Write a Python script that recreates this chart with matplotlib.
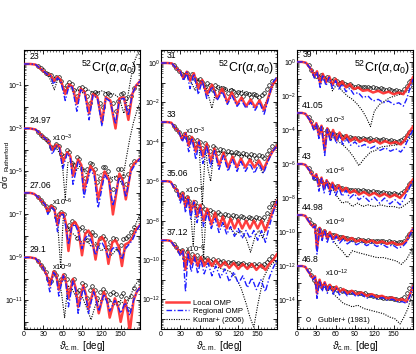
import numpy as np
import matplotlib.pyplot as plt
from matplotlib.ticker import FixedLocator, FuncFormatter, LogLocator, NullFormatter, MultipleLocator

plt.rcParams['font.family'] = ['Liberation Sans', 'DejaVu Sans']
plt.rcParams['mathtext.fontset'] = 'custom'
plt.rcParams['mathtext.rm'] = 'Liberation Sans'
plt.rcParams['mathtext.it'] = 'Liberation Sans:italic'
plt.rcParams['mathtext.bf'] = 'Liberation Sans:bold'

# angles of the measured points (deg), one grid per panel
dth1 = [22, 26, 30, 34, 38, 42, 46, 50, 54, 58, 62, 66, 70, 74, 78, 82, 86, 90, 94, 98,
        102, 106, 110, 114, 118, 122, 126, 130, 134, 138, 142, 146, 150, 154, 158, 162, 166, 170]
dth2 = [20, 24, 28, 32, 36, 40, 44, 48, 52, 56, 60, 64, 68, 72, 76, 80, 84, 88, 92, 96, 100,
        104, 108, 112, 116, 120, 124, 128, 132, 136, 140, 144, 148, 152, 156, 160, 164, 168, 172]
dth3 = [18, 22, 26, 30, 34, 38, 42, 46, 50, 54, 58, 62, 66, 70, 74, 78, 82, 86, 90, 94, 98,
        102, 106, 110, 114, 118, 122, 126, 130, 134, 138, 142, 146, 150, 154, 158, 162, 166, 170, 174]

# all values are log10(sigma/sigma_R) before the x10^-n offset
# ---- 23 MeV
e23_th = [0, 10, 18, 25, 31, 37, 41, 46, 52, 57, 64, 70, 75, 82, 88, 94, 101, 107, 114, 121, 127, 134, 142, 148, 155, 162, 168, 174, 180]
e23_loc = [0, 0, -0.03, -0.2, -0.35, -0.5, -0.5, -0.8, -0.6, -0.75, -1.4, -0.95, -1.05, -1.85, -1.15, -1.3, -2.3, -1.4, -1.55, -2.7, -1.55, -1.7, -3.0, -1.6, -1.55, -2.6, -1.4, -1.0, -0.8]
e23_reg = [0, 0, -0.03, -0.2, -0.35, -0.5, -0.55, -0.95, -0.65, -0.8, -1.7, -1.0, -1.1, -2.2, -1.2, -1.35, -2.6, -1.45, -1.6, -2.9, -1.6, -1.75, -2.8, -1.65, -1.6, -2.4, -1.4, -1.0, -0.8]
e23_kth = [0, 10, 18, 25, 31, 37, 42, 47, 53, 58, 64, 70, 76, 82, 90, 100, 110, 120, 130, 140, 148, 155, 160, 165, 170, 175, 180]
e23_kum = [0, 0, -0.03, -0.2, -0.4, -0.5, -0.8, -1.2, -0.65, -0.9, -1.3, -1.0, -1.3, -1.2, -1.35, -1.2, -1.4, -1.25, -1.35, -1.4, -1.6, -2.3, -1.7, -0.8, 0.0, 0.4, 0.6]
e23_dat = [-0.1, -0.2, -0.3, -0.4, -0.45, -0.5, -0.7, -0.6, -0.6, -0.8, -1.1, -1.0, -0.85, -0.95, -1.2, -1.5, -1.1, -1.05, -1.15, -1.5,
           -1.8, -1.35, -1.3, -1.35, -1.8, -2.0, -1.4, -1.35, -1.45, -1.8, -2.2, -1.7, -1.4, -1.35, -1.6, -2.0, -1.5, -1.1]
# ---- 24.97 MeV
e24_th = [0, 10, 18, 25, 32, 38, 44, 50, 55, 60, 67, 72, 76, 84, 89, 93, 103, 109, 115, 125, 132, 138, 148, 153, 158, 166, 172, 180]
e24_loc = [0, 0, -0.05, -0.25, -0.45, -0.6, -1.0, -0.75, -0.85, -1.6, -1.1, -1.3, -2.2, -1.45, -1.7, -2.9, -1.75, -2.0, -3.3, -2.0, -2.4, -4.0, -2.1, -2.4, -3.3, -1.9, -1.6, -1.4]
e24_reg = [0, 0, -0.05, -0.25, -0.45, -0.6, -1.2, -0.8, -0.9, -1.9, -1.15, -1.4, -2.6, -1.55, -1.8, -3.2, -1.9, -2.2, -3.7, -2.15, -2.5, -3.6, -2.25, -2.5, -3.2, -2.0, -1.7, -1.4]
e24_kth = [0, 10, 18, 25, 32, 38, 44, 50, 56, 60, 64, 68, 74, 80, 88, 96, 105, 115, 125, 135, 145, 152, 158, 164, 170, 176, 180]
e24_kum = [0, 0, -0.05, -0.25, -0.5, -0.7, -1.0, -0.9, -1.2, -1.8, -3.3, -1.6, -1.5, -2.0, -1.7, -2.1, -1.9, -2.2, -2.0, -2.3, -2.2, -2.6, -1.5, -0.5, 0.3, 0.9, 1.2]
e24_dat = [-0.15, -0.3, -0.4, -0.5, -0.6, -0.85, -0.85, -0.7, -0.8, -1.2, -1.3, -1.0, -1.1, -1.6, -1.7, -1.35, -1.4, -1.9, -2.3, -1.9,
           -1.6, -1.65, -1.9, -2.5, -2.3, -1.8, -1.8, -2.0, -2.4, -2.8, -2.3, -1.9, -1.9, -2.2, -2.6, -2.1, -1.7, -1.5]
# ---- 27.06 MeV
e27_th = [0, 10, 16, 22, 28, 33, 37, 42, 47, 52, 56, 61, 65, 69, 74, 79, 84, 90, 95, 100, 105, 111, 116, 121, 126, 131, 137, 142, 147, 152, 157, 163, 168, 174, 180]
e27_loc = [0, 0, -0.05, -0.2, -0.4, -0.55, -0.9, -0.6, -0.75, -1.5, -0.95, -0.93, -1.4, -2.7, -1.5, -1.35, -1.6, -2.9, -1.9, -1.75, -2.0, -3.1, -2.2, -2.05, -2.3, -3.3, -2.3, -2.2, -2.5, -3.4, -2.4, -2.3, -2.1, -1.7, -1.5]
e27_reg = [0, 0, -0.05, -0.2, -0.4, -0.55, -1.0, -0.65, -0.8, -1.8, -1.0, -1.0, -1.6, -2.4, -1.6, -1.45, -1.8, -2.6, -2.1, -1.95, -2.3, -2.9, -2.4, -2.3, -2.6, -3.0, -2.6, -2.5, -2.7, -3.1, -2.6, -2.4, -2.2, -1.8, -1.5]
e27_kth = [0, 10, 16, 22, 28, 33, 37, 42, 47, 52, 57, 61, 66, 72, 80, 88, 96, 104, 112, 120, 128, 136, 144, 152, 160, 168, 174, 180]
e27_kum = [0, 0, -0.05, -0.2, -0.4, -0.55, -0.95, -0.6, -0.8, -1.3, -3.5, -1.1, -1.5, -1.8, -2.0, -2.3, -2.1, -2.5, -2.3, -2.7, -2.5, -2.9, -2.6, -2.9, -2.5, -2.0, -1.4, -1.0]
e27_dat = [-0.2, -0.35, -0.45, -0.6, -0.8, -0.6, -0.7, -1.1, -1.0, -0.9, -1.0, -1.7, -1.5, -1.3, -1.4, -2.1, -1.7, -1.6, -1.75, -2.2,
           -1.9, -1.8, -1.95, -2.4, -2.1, -2.0, -2.15, -2.5, -2.3, -2.1, -2.15, -2.6, -2.4, -2.15, -2.1, -2.0, -1.8, -1.6]
# ---- 29.1 MeV
e29_th = [0, 10, 18, 25, 30, 35, 40, 46, 50, 54, 61, 65, 69, 76, 80, 84, 92, 96, 100, 108, 112, 116, 124, 129, 133, 141, 146, 150, 157, 161, 164, 170, 175, 180]
e29_loc = [0, 0, -0.05, -0.3, -0.5, -0.8, -1.3, -0.65, -0.8, -1.5, -0.8, -1.1, -1.9, -1.0, -1.4, -2.3, -1.3, -1.7, -2.4, -1.5, -1.9, -2.6, -1.6, -2.0, -2.8, -1.9, -2.3, -3.0, -2.0, -2.6, -3.5, -2.0, -1.6, -1.4]
e29_reg = [0, 0, -0.05, -0.3, -0.5, -0.85, -1.6, -0.7, -0.85, -1.8, -0.85, -1.2, -2.3, -1.1, -1.5, -2.6, -1.4, -1.8, -2.6, -1.6, -2.0, -2.5, -1.7, -2.1, -2.5, -2.0, -2.3, -2.6, -2.1, -2.4, -2.7, -2.0, -1.6, -1.4]
e29_kth = [0, 10, 18, 25, 30, 35, 40, 46, 52, 58, 63, 68, 75, 82, 90, 98, 104, 112, 120, 130, 140, 150, 158, 165, 172, 180]
e29_kum = [0, 0, -0.05, -0.3, -0.5, -0.8, -1.2, -0.7, -1.0, -1.6, -2.8, -1.3, -1.5, -1.9, -1.8, -2.4, -2.9, -2.1, -2.0, -1.9, -2.2, -2.0, -2.3, -1.8, -1.3, -1.0]
e29_dat = [-0.15, -0.35, -0.5, -0.7, -1.0, -1.1, -0.7, -0.8, -1.2, -1.0, -0.8, -1.0, -1.5, -1.1, -1.0, -1.6, -1.5, -1.2, -1.3, -1.9,
           -1.5, -1.35, -1.5, -1.9, -1.6, -1.45, -1.6, -2.0, -1.7, -1.6, -1.7, -2.1, -1.8, -1.65, -1.9, -2.4, -1.8, -1.4]
# ---- 31 MeV
e31_th = [0, 10, 17, 24, 30, 35, 40, 45, 51, 58, 64, 71, 79, 87, 95, 103, 110, 118, 125, 132, 139, 146, 153, 160, 167, 173, 180]
e31_loc = [0, 0, -0.02, -0.27, -0.45, -0.8, -0.44, -0.9, -0.52, -1.3, -0.86, -1.6, -1.1, -1.8, -1.3, -2.0, -1.5, -2.1, -1.75, -2.2, -1.85, -2.25, -1.9, -2.4, -1.7, -1.1, -0.8]
e31_reg = [0, 0, -0.02, -0.27, -0.45, -0.9, -0.46, -1.3, -0.55, -1.6, -0.9, -1.8, -1.2, -1.9, -1.45, -2.1, -1.65, -2.2, -1.9, -2.3, -2.0, -2.4, -2.0, -2.6, -1.8, -1.0, -0.7]
e31_kth = [0, 10, 17, 24, 30, 35, 40, 45, 53, 58, 64, 70, 79, 86, 94, 102, 110, 118, 126, 134, 142, 150, 158, 164, 170, 176, 180]
e31_kum = [0, 0, -0.02, -0.27, -0.45, -0.8, -0.45, -0.85, -1.4, -0.8, -1.0, -1.2, -2.3, -1.3, -1.2, -1.4, -1.3, -1.5, -1.4, -1.6, -1.5, -1.8, -2.3, -1.9, -1.5, -1.0, -0.8]
e31_dat = [-0.1, -0.25, -0.4, -0.55, -0.6, -0.5, -0.7, -0.55, -0.8, -0.95, -0.8, -0.95, -1.2, -1.0, -1.1, -1.35, -1.1, -1.2, -1.4, -1.25,
           -1.3, -1.5, -1.35, -1.4, -1.6, -1.45, -1.5, -1.65, -1.5, -1.55, -1.7, -1.55, -1.6, -1.75, -1.6, -1.5, -1.3, -1.1, -0.9]
# ---- 33 MeV
e33_th = [0, 10, 16, 22, 28, 33, 38, 43, 48, 54, 59, 65, 71, 77, 83, 90, 97, 104, 111, 118, 124, 131, 138, 145, 152, 159, 166, 173, 180]
e33_loc = [0, 0, -0.03, -0.3, -0.5, -0.9, -0.55, -1.2, -0.75, -1.5, -0.95, -1.75, -1.1, -2.0, -1.35, -2.2, -1.55, -2.3, -1.75, -2.3, -1.85, -2.3, -1.9, -2.3, -1.95, -2.4, -1.9, -1.5, -1.2]
e33_reg = [0, 0, -0.03, -0.3, -0.5, -1.0, -0.6, -1.5, -0.8, -1.9, -1.0, -2.1, -1.2, -2.3, -1.45, -2.4, -1.7, -2.5, -1.9, -2.5, -2.0, -2.5, -2.1, -2.6, -2.1, -2.6, -2.0, -1.5, -1.2]
e33_kth = [0, 10, 16, 22, 28, 33, 38, 43, 48, 54, 59, 64, 69, 73, 77, 82, 90, 100, 110, 120, 130, 140, 150, 158, 165, 172, 180]
e33_kum = [0, 0, -0.03, -0.3, -0.5, -0.9, -0.55, -1.1, -0.8, -1.3, -1.1, -4.2, -1.3, -2.4, -3.0, -1.5, -1.5, -1.6, -1.6, -1.7, -1.7, -1.9, -2.1, -2.6, -2.0, -1.5, -1.2]
e33_dat = [-0.2, -0.35, -0.5, -0.75, -0.6, -0.8, -0.75, -0.85, -1.1, -0.9, -1.0, -1.3, -1.05, -1.2, -1.45, -1.2, -1.3, -1.55, -1.35, -1.4,
           -1.6, -1.45, -1.5, -1.65, -1.5, -1.55, -1.7, -1.55, -1.6, -1.75, -1.6, -1.65, -1.8, -1.65, -1.7, -1.8, -1.6, -1.4, -1.2]
# ---- 35.06 MeV
e35_th = [0, 10, 15, 20, 25, 30, 34, 38, 42, 46, 51, 56, 61, 66, 72, 78, 84, 90, 96, 102, 108, 114, 120, 126, 132, 138, 144, 150, 156, 162, 168, 174, 180]
e35_loc = [0, 0, -0.03, -0.3, -0.45, -0.9, -0.6, -1.3, -0.8, -1.55, -1.0, -1.8, -1.2, -2.0, -1.4, -2.2, -1.6, -2.3, -1.8, -2.4, -1.9, -2.4, -1.95, -2.4, -2.0, -2.4, -2.0, -2.4, -2.0, -2.5, -2.0, -1.5, -1.0]
e35_reg = [0, 0, -0.03, -0.3, -0.45, -1.1, -0.65, -1.6, -0.85, -1.9, -1.05, -2.1, -1.3, -2.3, -1.6, -2.4, -1.9, -2.6, -2.1, -2.7, -2.3, -2.8, -2.4, -2.9, -2.5, -2.9, -2.5, -3.0, -2.5, -3.1, -2.3, -1.6, -1.0]
e35_kth = [0, 10, 15, 20, 25, 30, 34, 38, 42, 46, 50, 54, 58, 62, 66, 70, 76, 84, 92, 100, 108, 116, 124, 132, 139, 146, 152, 158, 164, 170, 176, 180]
e35_kum = [0, 0, -0.03, -0.3, -0.45, -0.9, -0.6, -1.25, -0.8, -1.5, -3.3, -1.2, -1.5, -1.6, -3.9, -1.5, -1.7, -1.9, -2.0, -2.3, -2.4, -2.7, -2.5, -2.9, -3.6, -2.8, -2.5, -2.9, -2.2, -1.6, -1.0, -0.8]
e35_dat = [-0.25, -0.45, -0.7, -0.6, -0.9, -0.8, -1.0, -1.2, -1.05, -1.25, -1.4, -1.25, -1.4, -1.55, -1.45, -1.55, -1.7, -1.55, -1.65, -1.8,
           -1.65, -1.7, -1.85, -1.7, -1.75, -1.9, -1.75, -1.8, -1.9, -1.8, -1.85, -1.95, -1.8, -1.85, -1.95, -1.8, -1.6, -1.3, -1.1]
# ---- 37.12 MeV
e37_th = [0, 10, 15, 20, 25, 30, 34, 38, 42, 47, 52, 57, 62, 67, 73, 79, 85, 92, 99, 106, 113, 120, 127, 134, 141, 148, 155, 162, 168, 174, 180]
e37_loc = [0, 0, -0.03, -0.25, -0.4, -0.7, -0.5, -1.5, -0.6, -1.2, -0.75, -1.3, -0.85, -1.3, -0.95, -1.3, -1.0, -1.35, -1.1, -1.4, -1.15, -1.45, -1.2, -1.45, -1.2, -1.5, -1.25, -1.5, -1.2, -1.0, -0.7]
e37_reg = [0, 0, -0.03, -0.25, -0.4, -0.8, -0.55, -2.6, -0.7, -1.6, -0.85, -1.7, -1.0, -1.7, -1.15, -1.8, -1.3, -1.9, -1.45, -2.1, -1.6, -2.2, -1.8, -2.4, -1.9, -2.5, -2.0, -2.6, -1.9, -1.4, -1.0]
e37_kth = [0, 10, 15, 20, 25, 30, 34, 38, 42, 47, 52, 57, 62, 70, 80, 90, 100, 108, 116, 124, 132, 138, 144, 150, 155, 159, 165, 172, 180]
e37_kum = [0, 0, -0.03, -0.25, -0.4, -0.7, -0.5, -1.4, -0.6, -1.2, -0.8, -1.3, -0.9, -1.2, -1.3, -1.4, -1.5, -1.6, -1.9, -2.4, -3.2, -3.9, -4.4, -3.3, -2.5, -1.9, -1.5, -1.2, -1.0]
e37_dat = [-0.2, -0.35, -0.55, -0.5, -0.9, -0.6, -0.9, -0.7, -0.95, -0.75, -0.95, -0.85, -1.0, -0.9, -1.05, -0.95, -1.1, -1.0, -1.1, -1.05,
           -1.15, -1.1, -1.15, -1.1, -1.2, -1.15, -1.2, -1.15, -1.25, -1.2, -1.25, -1.2, -1.3, -1.2, -1.3, -1.2, -1.1, -0.95, -0.8]
# ---- 39 MeV
e39_th = [0, 8, 14, 19, 23, 27, 31, 36, 40, 45, 50, 55, 60, 65, 70, 76, 82, 88, 95, 102, 110, 118, 126, 134, 142, 150, 158, 165, 170, 175, 180]
e39_loc = [0, 0, -0.05, -0.3, -0.5, -0.85, -0.55, -1.25, -0.7, -1.2, -0.85, -1.35, -1.0, -1.4, -1.15, -1.5, -1.3, -1.6, -1.5, -1.7, -1.65, -1.8, -1.7, -1.85, -1.75, -1.9, -1.8, -1.9, -1.6, -1.3, -0.9]
e39_reg = [0, 0, -0.05, -0.3, -0.5, -0.95, -0.6, -1.5, -0.75, -1.4, -0.9, -1.55, -1.1, -1.6, -1.3, -1.75, -1.55, -1.9, -1.8, -2.1, -2.0, -2.3, -2.2, -2.4, -2.3, -2.5, -2.4, -2.6, -2.2, -1.6, -1.0]
e39_kth = [0, 8, 14, 19, 23, 27, 31, 36, 40, 45, 50, 55, 62, 70, 78, 86, 94, 102, 108, 114, 120, 128, 136, 144, 152, 160, 168, 175, 180]
e39_kum = [0, 0, -0.05, -0.3, -0.5, -0.85, -0.55, -1.2, -0.7, -1.15, -0.9, -1.7, -1.3, -1.7, -2.0, -2.2, -2.5, -2.9, -3.3, -3.8, -2.9, -2.5, -2.3, -2.1, -2.0, -1.9, -1.8, -1.6, -1.4]
e39_dat = [-0.2, -0.45, -0.7, -0.8, -0.9, -0.75, -0.95, -0.9, -1.05, -1.1, -1.0, -1.15, -1.25, -1.2, -1.3, -1.35, -1.3, -1.4, -1.45, -1.4,
           -1.45, -1.5, -1.45, -1.5, -1.55, -1.5, -1.55, -1.6, -1.55, -1.6, -1.65, -1.6, -1.65, -1.7, -1.65, -1.7, -1.75, -1.6, -1.4, -1.2]
# ---- 41.05 MeV
e41_th = [0, 8, 13, 18, 22, 26, 30, 34, 38, 43, 47, 52, 56, 61, 66, 71, 77, 83, 90, 97, 105, 113, 121, 129, 137, 145, 153, 161, 167, 173, 180]
e41_loc = [0, 0, -0.05, -0.3, -0.55, -0.9, -0.6, -1.3, -0.75, -2.2, -0.9, -1.5, -1.0, -1.6, -1.15, -1.6, -1.3, -1.65, -1.45, -1.7, -1.55, -1.75, -1.6, -1.8, -1.65, -1.8, -1.7, -1.85, -1.6, -1.2, -0.8]
e41_reg = [0, 0, -0.05, -0.3, -0.55, -1.0, -0.65, -1.5, -0.8, -2.5, -0.95, -1.7, -1.1, -1.8, -1.3, -1.85, -1.5, -1.9, -1.7, -2.0, -1.85, -2.1, -1.95, -2.2, -2.05, -2.25, -2.1, -2.3, -2.0, -1.5, -1.0]
e41_kth = [0, 8, 13, 18, 22, 26, 30, 34, 38, 43, 47, 52, 58, 65, 72, 80, 88, 96, 104, 114, 122, 130, 140, 150, 160, 168, 175, 180]
e41_kum = [0, 0, -0.05, -0.3, -0.55, -0.9, -0.6, -1.25, -0.75, -1.9, -1.0, -1.6, -1.4, -1.7, -1.9, -2.2, -2.6, -3.1, -2.7, -2.3, -2.2, -2.0, -1.95, -1.9, -1.85, -1.7, -1.5, -1.3]
e41_dat = [-0.25, -0.5, -0.8, -0.75, -1.0, -0.9, -1.2, -1.0, -1.2, -1.15, -1.25, -1.3, -1.3, -1.4, -1.35, -1.45, -1.4, -1.5, -1.45, -1.5,
           -1.55, -1.5, -1.55, -1.55, -1.5, -1.6, -1.55, -1.6, -1.6, -1.55, -1.6, -1.65, -1.6, -1.65, -1.7, -1.65, -1.6, -1.5, -1.3, -1.1]
# ---- 43 MeV
e43_th = [0, 8, 13, 18, 22, 26, 30, 34, 38, 42, 46, 51, 55, 60, 65, 70, 76, 82, 89, 96, 104, 112, 120, 128, 136, 144, 152, 160, 167, 173, 180]
e43_loc = [0, 0, -0.05, -0.3, -0.5, -0.8, -0.6, -1.3, -0.8, -1.4, -0.95, -1.5, -1.1, -1.55, -1.25, -1.6, -1.4, -1.7, -1.55, -1.8, -1.65, -1.85, -1.7, -1.9, -1.75, -1.95, -1.8, -2.0, -1.7, -1.3, -0.9]
e43_reg = [0, 0, -0.05, -0.3, -0.5, -0.9, -0.65, -1.6, -0.85, -1.7, -1.0, -1.8, -1.2, -1.85, -1.4, -1.9, -1.55, -2.0, -1.75, -2.1, -1.9, -2.2, -1.95, -2.3, -2.0, -2.35, -2.1, -2.4, -2.0, -1.5, -1.0]
e43_kth = [0, 8, 13, 18, 22, 26, 30, 34, 38, 42, 46, 51, 56, 62, 70, 78, 86, 94, 102, 110, 120, 130, 140, 150, 160, 168, 175, 180]
e43_kum = [0, 0, -0.05, -0.3, -0.5, -0.8, -0.6, -1.25, -0.8, -1.35, -1.0, -1.6, -1.5, -1.9, -2.3, -2.2, -2.5, -2.3, -2.5, -2.4, -2.5, -2.4, -2.5, -2.5, -2.6, -2.4, -2.2, -2.0]
e43_dat = [-0.25, -0.5, -0.8, -0.8, -1.0, -1.0, -1.2, -1.1, -1.25, -1.25, -1.35, -1.3, -1.4, -1.4, -1.45, -1.45, -1.5, -1.5, -1.55, -1.5,
           -1.6, -1.55, -1.6, -1.6, -1.65, -1.6, -1.65, -1.65, -1.7, -1.65, -1.7, -1.7, -1.75, -1.7, -1.75, -1.8, -1.7, -1.6, -1.4, -1.2]
# ---- 44.98 MeV
e45_th = [0, 8, 13, 17, 21, 25, 28, 31, 35, 39, 43, 47, 51, 56, 61, 66, 72, 78, 85, 92, 100, 108, 116, 124, 132, 140, 148, 156, 164, 170, 175, 180]
e45_loc = [0, 0, -0.05, -0.3, -0.5, -0.7, -0.6, -2.0, -0.75, -1.3, -0.9, -1.4, -1.0, -1.4, -1.15, -1.45, -1.25, -1.5, -1.35, -1.55, -1.45, -1.6, -1.5, -1.65, -1.55, -1.7, -1.6, -1.75, -1.7, -1.5, -1.1, -0.8]
e45_reg = [0, 0, -0.05, -0.3, -0.5, -0.75, -0.65, -2.3, -0.8, -1.5, -0.95, -1.6, -1.1, -1.6, -1.25, -1.65, -1.4, -1.7, -1.5, -1.75, -1.6, -1.8, -1.65, -1.85, -1.7, -1.9, -1.75, -1.95, -1.85, -1.6, -1.2, -0.8]
e45_kth = [0, 8, 13, 17, 21, 25, 28, 31, 35, 39, 43, 47, 52, 58, 64, 70, 78, 86, 94, 104, 114, 124, 134, 144, 154, 162, 170, 176, 180]
e45_kum = [0, 0, -0.05, -0.3, -0.5, -0.7, -0.6, -1.8, -0.75, -1.3, -0.9, -1.4, -1.2, -1.6, -1.9, -2.1, -2.5, -2.1, -2.2, -2.3, -2.4, -2.5, -2.5, -2.6, -2.7, -2.9, -2.6, -2.2, -1.8]
e45_dat = [-0.25, -0.45, -0.6, -1.0, -0.8, -1.1, -0.95, -1.15, -1.1, -1.2, -1.2, -1.25, -1.3, -1.3, -1.35, -1.35, -1.4, -1.4, -1.45, -1.4,
           -1.45, -1.45, -1.5, -1.45, -1.5, -1.5, -1.55, -1.5, -1.55, -1.55, -1.6, -1.55, -1.6, -1.6, -1.65, -1.6, -1.6, -1.5, -1.3, -1.1]
# ---- 46.8 MeV
e47_th = [0, 8, 13, 17, 21, 25, 28, 31, 35, 39, 43, 47, 51, 56, 61, 66, 72, 78, 85, 92, 100, 108, 116, 124, 132, 140, 148, 156, 164, 170, 175, 180]
e47_loc = [0, 0, -0.05, -0.3, -0.5, -0.75, -0.6, -1.6, -0.8, -1.3, -0.95, -1.4, -1.1, -1.45, -1.2, -1.5, -1.35, -1.6, -1.45, -1.65, -1.55, -1.75, -1.65, -1.8, -1.75, -1.9, -1.85, -2.0, -1.95, -2.1, -1.7, -1.2]
e47_reg = [0, 0, -0.05, -0.3, -0.5, -0.8, -0.65, -1.9, -0.85, -1.5, -1.0, -1.6, -1.2, -1.65, -1.3, -1.7, -1.45, -1.75, -1.55, -1.8, -1.65, -1.9, -1.75, -1.95, -1.85, -2.0, -1.95, -2.1, -2.1, -2.2, -1.8, -1.2]
e47_kth = [0, 8, 13, 17, 21, 25, 28, 31, 35, 39, 43, 47, 52, 58, 64, 72, 80, 86, 94, 104, 114, 124, 134, 144, 152, 160, 166, 172, 176, 180]
e47_kum = [0, 0, -0.05, -0.3, -0.5, -0.75, -0.6, -1.5, -0.8, -1.3, -1.0, -1.5, -1.3, -1.7, -1.9, -2.2, -2.3, -2.4, -2.3, -2.5, -2.6, -2.7, -2.8, -3.0, -3.1, -3.4, -3.0, -2.5, -2.0, -1.6]
e47_dat = [-0.25, -0.5, -0.8, -1.0, -1.0, -1.2, -1.1, -1.3, -1.2, -1.3, -1.3, -1.4, -1.35, -1.45, -1.45, -1.5, -1.5, -1.55, -1.55, -1.6,
           -1.6, -1.65, -1.6, -1.7, -1.7, -1.75, -1.75, -1.8, -1.8, -1.85, -1.85, -1.9, -1.9, -1.95, -1.95, -2.0, -1.95, -1.8, -1.6, -1.3]

# energy label, decade offset
panel1 = [('23', 0, e23_th, e23_loc, e23_reg, e23_kth, e23_kum, e23_dat),
          ('24.97', -3, e24_th, e24_loc, e24_reg, e24_kth, e24_kum, e24_dat),
          ('27.06', -6, e27_th, e27_loc, e27_reg, e27_kth, e27_kum, e27_dat),
          ('29.1', -9, e29_th, e29_loc, e29_reg, e29_kth, e29_kum, e29_dat)]
panel2 = [('31', 0, e31_th, e31_loc, e31_reg, e31_kth, e31_kum, e31_dat),
          ('33', -3, e33_th, e33_loc, e33_reg, e33_kth, e33_kum, e33_dat),
          ('35.06', -6, e35_th, e35_loc, e35_reg, e35_kth, e35_kum, e35_dat),
          ('37.12', -9, e37_th, e37_loc, e37_reg, e37_kth, e37_kum, e37_dat)]
panel3 = [('39', 0, e39_th, e39_loc, e39_reg, e39_kth, e39_kum, e39_dat),
          ('41.05', -3, e41_th, e41_loc, e41_reg, e41_kth, e41_kum, e41_dat),
          ('43', -6, e43_th, e43_loc, e43_reg, e43_kth, e43_kum, e43_dat),
          ('44.98', -9, e45_th, e45_loc, e45_reg, e45_kth, e45_kum, e45_dat),
          ('46.8', -12, e47_th, e47_loc, e47_reg, e47_kth, e47_kum, e47_dat)]

W, H = 416, 354
fig = plt.figure(figsize=(W / 100, H / 100), dpi=100)

# left edge px, log10 y-limits, labelled decades, x of the "x10^n" text
setup = [
    (24, (-12.33, 0.65), [-1, -3, -5, -7, -9, -11], panel1, dth1, 44),
    (161, (-13.5, 0.66), [0, -2, -4, -6, -8, -10, -12], panel2, dth2, 38),
    (297, (-15.7, 0.7), [0, -2, -4, -6, -8, -10, -12, -14], panel3, dth3, 44),
]

red = '#ff2a2a'
blue = '#1f1fff'

axes = []
for k, (left, ylog, labelled, rows, dth, xoff) in enumerate(setup):
    ax = fig.add_axes([left / W, 1 - 329 / H, 116 / W, 279 / H])
    axes.append(ax)
    for name, sh, th, loc, reg, kth, kum, dat in rows:
        s = 10.0 ** sh
        n = min(len(dth), len(dat))
        ax.plot(dth[:n], s * 10 ** np.array(dat[:n]), 'o', ms=2.6, mfc='none',
                mec='k', mew=0.5, zorder=2)
        ax.plot(kth, s * 10 ** np.array(kum), color='k', ls=(0, (1, 1.2)), lw=0.8, zorder=3)
        ax.plot(th, s * 10 ** np.array(loc), color=red, lw=1.8, alpha=0.9, zorder=4)
        ax.plot(th, s * 10 ** np.array(reg), color=blue, lw=1.0,
                ls=(0, (4, 1.5, 1, 1.5)), zorder=5)
        ax.text(8, s * 10 ** 0.15, name, fontsize=6.2, ha='left', va='bottom', zorder=6)
        if sh != 0:
            ax.text(xoff, s * 10 ** -0.45, r'x10$^{%d}$' % sh, fontsize=5.5,
                    ha='left', va='center', zorder=6)

    ax.set_yscale('log')
    ax.set_ylim(10 ** ylog[0], 10 ** ylog[1])
    ax.set_xlim(0, 180)
    decs = list(range(int(np.floor(ylog[0])), 1))
    ax.yaxis.set_major_locator(FixedLocator([10.0 ** d for d in decs]))
    ax.yaxis.set_major_formatter(FuncFormatter(
        lambda v, p, lab=labelled: r'$10^{%d}$' % round(np.log10(v)) if round(np.log10(v)) in lab else ''))
    ax.yaxis.set_minor_locator(LogLocator(base=10, subs=(2, 3, 4, 5, 6, 7, 8, 9), numticks=50))
    ax.yaxis.set_minor_formatter(NullFormatter())
    ax.set_xticks([0, 30, 60, 90, 120, 150])
    ax.xaxis.set_minor_locator(MultipleLocator(5))
    ax.tick_params(which='both', direction='in', top=True, right=True, labelsize=5, pad=1.2)
    ax.tick_params(axis='y', which='both', pad=0.6)
    ax.tick_params(which='major', length=3, width=0.6)
    ax.tick_params(which='minor', length=1.5, width=0.4)
    for sp in ax.spines.values():
        sp.set_linewidth(0.8)
    ax.set_xlabel(r'$\vartheta_{\rm c.m.}$ [deg]', fontsize=7, labelpad=1)
    ax.text(0.97, 0.935, r'$^{52}$Cr($\alpha$,$\alpha_0$)', transform=ax.transAxes,
            fontsize=9, ha='right', va='center')

# y label built from two rotated pieces so it sits clear of the tick labels
fig.text(0.8 / W, 1 - 174 / H, 'σ/σ', rotation=90, ha='left', va='top', fontsize=6.5)
fig.text(4.5 / W, 1 - 171 / H, 'Rutherford', rotation=90, ha='left', va='bottom', fontsize=4.6)

# legend for the calculations (middle panel)
h1, = axes[1].plot([], [], color=red, lw=1.8, alpha=0.9)
h2, = axes[1].plot([], [], color=blue, lw=1.0, ls=(0, (4, 1.5, 1, 1.5)))
h3, = axes[1].plot([], [], color='k', ls=(0, (1, 1.2)), lw=0.8)
axes[1].legend([h1, h2, h3], ['Local OMP', 'Regional OMP', 'Kumar+ (2006)'], loc='lower left',
               frameon=False, fontsize=5.5, handlelength=3, labelspacing=0.15,
               borderaxespad=0.3, handletextpad=0.5)

# legend for the data (right panel)
h4, = axes[2].plot([], [], 'o', ms=2.8, mfc='none', mec='k', mew=0.5)
axes[2].legend([h4], ['Gubler+ (1981)'], loc='lower left', frameon=False, fontsize=5.5,
               handlelength=1.5, borderaxespad=0.3, handletextpad=0.6)

fig.savefig('out.png', dpi=100)
